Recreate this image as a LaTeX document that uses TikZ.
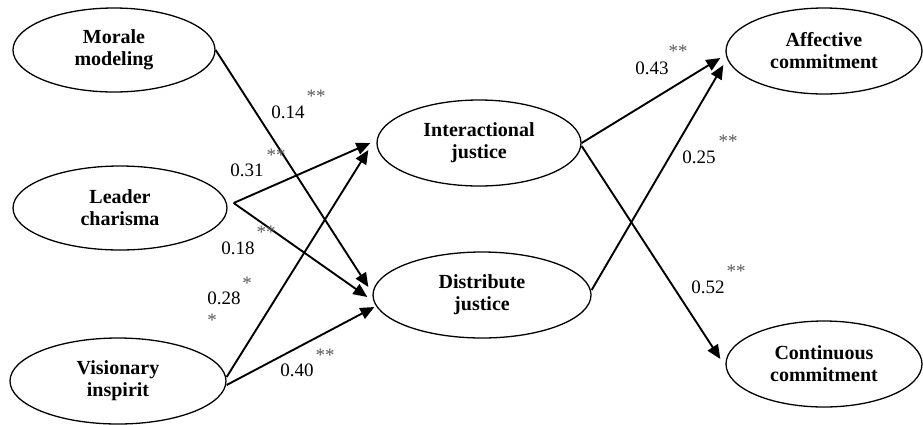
\documentclass[tikz,border=0pt]{standalone}
\usepackage{fontspec}
\setmainfont{Liberation Serif}
\usetikzlibrary{arrows.meta, shapes.geometric}
\tikzset{
    construct/.style={ellipse, draw, line width=1.3pt, inner sep=0pt, align=center,
        font=\fontsize{20}{22}\selectfont\bfseries}, % latent variables
    path arrow/.style={line width=1.9pt, -{Triangle[length=14pt, width=12pt]}}, % structural paths
    coef/.style={inner sep=0pt, font=\fontsize{19}{20}\selectfont}, % path coefficients
    sig/.style={inner sep=0pt, text=black!65, font=\fontsize{19}{19}\selectfont} % significance marks
}

\begin{document}
\begin{tikzpicture}[x=1pt, y=-1pt]
    \useasboundingbox (0,0) rectangle (923,424);

    % leadership dimensions
    \node[construct, minimum width=202pt, minimum height=84pt] (morale) at (114,50) {Morale\\modeling};
    \node[construct, minimum width=214pt, minimum height=84pt] (lead) at (120,208) {Leader\\charisma};
    \node[construct, minimum width=216pt, minimum height=86pt] (vis) at (118,381) {Visionary\\inspirit};

    % justice
    \node[construct, minimum width=204pt, minimum height=86pt] (inter) at (479,143) {Interactional\\justice};
    \node[construct, minimum width=218pt, minimum height=86pt] (dist) at (482,295) {Distribute\\justice};

    % commitment
    \node[construct, minimum width=196pt, minimum height=86pt] (aff) at (824,51) {Affective\\commitment};
    \node[construct, minimum width=196pt, minimum height=86pt] (cont) at (824,364) {Continuous\\commitment};

    \coordinate (lc) at ([shift={(6pt,5pt)}]lead.east);

    \draw[path arrow] (morale.east) -- ([shift={(-4pt,8pt)}]dist.west);
    \draw[path arrow] (lc) -- ([shift={(-6pt,0pt)}]inter.west);
    \draw[path arrow] (lc) -- ([shift={(-5pt,-2pt)}]dist.west);
    \draw[path arrow] ([yshift=4pt]vis.east) -- ([shift={(-8pt,-7pt)}]inter.west);
    \draw[path arrow] ([yshift=-4pt]vis.east) -- ([shift={(2pt,-12pt)}]dist.west);
    \draw[path arrow] (inter.east) -- ([shift={(-5pt,-7pt)}]aff.west);
    \draw[path arrow] ([yshift=-3pt]inter.east) -- ([shift={(-5pt,5pt)}]cont.west);
    \draw[path arrow] ([yshift=5pt]dist.east) -- ([shift={(-2pt,-14pt)}]aff.west);

    \foreach \n/\x/\y/\val in {
        a/288/112/0.14,
        b/247/170/0.31,
        c/238/248/0.18,
        d/224/298/0.28,
        e/297/370/0.40,
        f/652/68/0.43,
        g/699/157/0.25,
        h/708/287/0.52
    } {
        \node[coef] (c\n) at (\x,\y) {\val};
    }

    \foreach \n/\x/\y/\stars in {
        a/316/96/{**},
        b/276/155/{**},
        c/266/232/{**},
        d/247/283/{*},
        dd/212/320/{*},
        e/325/355/{**},
        f/678/51/{**},
        g/728/141/{**},
        h/736/271/{**}
    } {
        \node[sig] (s\n) at (\x,\y) {\stars};
    }
\end{tikzpicture}
\end{document}
